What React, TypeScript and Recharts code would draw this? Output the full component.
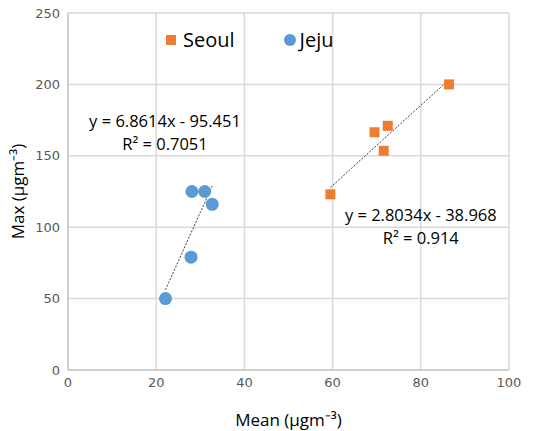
import {
  ScatterChart,
  Scatter,
  XAxis,
  YAxis,
  CartesianGrid,
  ReferenceLine,
  ReferenceDot,
  Label,
} from "recharts";

// Mean vs Max (μgm⁻³)
const seoulMean = [59.5, 69.5, 72.5, 71.6, 86.4];
const seoulMax = [123, 166.5, 171, 153.5, 200];
const jejuMean = [22.1, 27.9, 28.1, 31.0, 32.7];
const jejuMax = [50, 79, 125, 125, 116];

const xTicks = [0, 20, 40, 60, 80, 100];
const yTicks = [0, 50, 100, 150, 200, 250];

// trendline coefficients (from the chart's equations)
const seoulFit = { a: 2.8034, b: -38.968, r2: "0.914" };
const jejuFit = { a: 6.8614, b: -95.451, r2: "0.7051" };

const ORANGE = "#ED7D31";
const BLUE = "#5B9BD5";
const FONT = "'Open Sans', sans-serif";
const TICK_FONT = "'DejaVu Sans', sans-serif";

const seoul = seoulMean.map((x, i) => ({ x, y: seoulMax[i] }));
const jeju = jejuMean.map((x, i) => ({ x, y: jejuMax[i] }));

function fitSegment(xs: number[], fit: { a: number; b: number }) {
  const lo = Math.min(...xs);
  const hi = Math.max(...xs);
  return [
    { x: lo, y: fit.a * lo + fit.b },
    { x: hi, y: fit.a * hi + fit.b },
  ];
}

function Square(props: any) {
  const { cx, cy } = props;
  return <rect x={cx - 5} y={cy - 5} width={10} height={10} fill={ORANGE} />;
}

function Dot(props: any) {
  const { cx, cy } = props;
  return <circle cx={cx} cy={cy} r={6.5} fill={BLUE} />;
}

function EquationLabel({ viewBox, lines }: any) {
  const { x, y } = viewBox;
  return (
    <text x={x} y={y} textAnchor="middle" fontFamily={FONT} fontSize={16.5} fill="#000">
      <tspan x={x} dy={0}>{lines[0]}</tspan>
      <tspan x={x} dy={23}>{lines[1]}</tspan>
    </text>
  );
}

function LegendBox() {
  return (
    <div
      style={{
        position: "absolute",
        left: 166,
        top: 28,
        display: "flex",
        alignItems: "center",
        fontFamily: FONT,
        fontSize: 20,
        color: "#000",
        lineHeight: "24px",
      }}
    >
      <span style={{ width: 10, height: 10, background: ORANGE, display: "inline-block", marginRight: 7 }} />
      <span style={{ marginRight: 49 }}>Seoul</span>
      <span style={{ width: 12, height: 12, borderRadius: 6, background: BLUE, display: "inline-block", marginRight: 4 }} />
      <span>Jeju</span>
    </div>
  );
}

export default function App() {
  const tick = { fill: "#595959", fontSize: 13, fontFamily: TICK_FONT };
  const jejuLine = fitSegment(jejuMean, jejuFit);
  const seoulLine = fitSegment(seoulMean, seoulFit);
  return (
    <div style={{ position: "absolute", left: 0, top: 0, width: 540, height: 431, background: "#fff" }}>
      <ScatterChart width={540} height={431} margin={{ top: 13, right: 31, bottom: 0, left: 0 }}>
        <CartesianGrid stroke="#d9d9d9" strokeWidth={1.5} />
        <XAxis
          type="number"
          dataKey="x"
          domain={[0, 100]}
          ticks={xTicks}
          tick={tick}
          tickLine={false}
          axisLine={{ stroke: "#c8c8c8", strokeWidth: 1.5 }}
          height={61}
        >
          <Label value="Mean (μgm⁻³)" position="insideBottom" offset={5} fill="#000" fontSize={17} fontFamily={FONT} />
        </XAxis>
        <YAxis
          type="number"
          dataKey="y"
          domain={[0, 250]}
          ticks={yTicks}
          tick={tick}
          tickLine={false}
          axisLine={{ stroke: "#c8c8c8", strokeWidth: 1.5 }}
          width={68}
        >
          <Label value="Max (μgm⁻³)" angle={-90} position="insideLeft" offset={18} fill="#000" fontSize={17} fontFamily={FONT} style={{ textAnchor: "middle" }} />
        </YAxis>
        <ReferenceLine
          segment={jejuLine}
          stroke="#404040"
          strokeDasharray="2 1.5"
          strokeWidth={1}
          ifOverflow="visible"
        />
        <ReferenceLine
          segment={seoulLine}
          stroke="#404040"
          strokeDasharray="2 1.5"
          strokeWidth={1}
          ifOverflow="visible"
        />
        <Scatter name="Seoul" data={seoul} shape={<Square />} isAnimationActive={false} />
        <Scatter name="Jeju" data={jeju} shape={<Dot />} isAnimationActive={false} />
        <ReferenceDot
          x={22}
          y={170}
          r={0}
          ifOverflow="visible"
          label={<EquationLabel lines={[`y = ${jejuFit.a}x - ${-jejuFit.b}`, `R² = ${jejuFit.r2}`]} />}
        />
        <ReferenceDot
          x={80}
          y={104}
          r={0}
          ifOverflow="visible"
          label={<EquationLabel lines={[`y = ${seoulFit.a}x - ${-seoulFit.b}`, `R² = ${seoulFit.r2}`]} />}
        />
      </ScatterChart>
      <LegendBox />
    </div>
  );
}
